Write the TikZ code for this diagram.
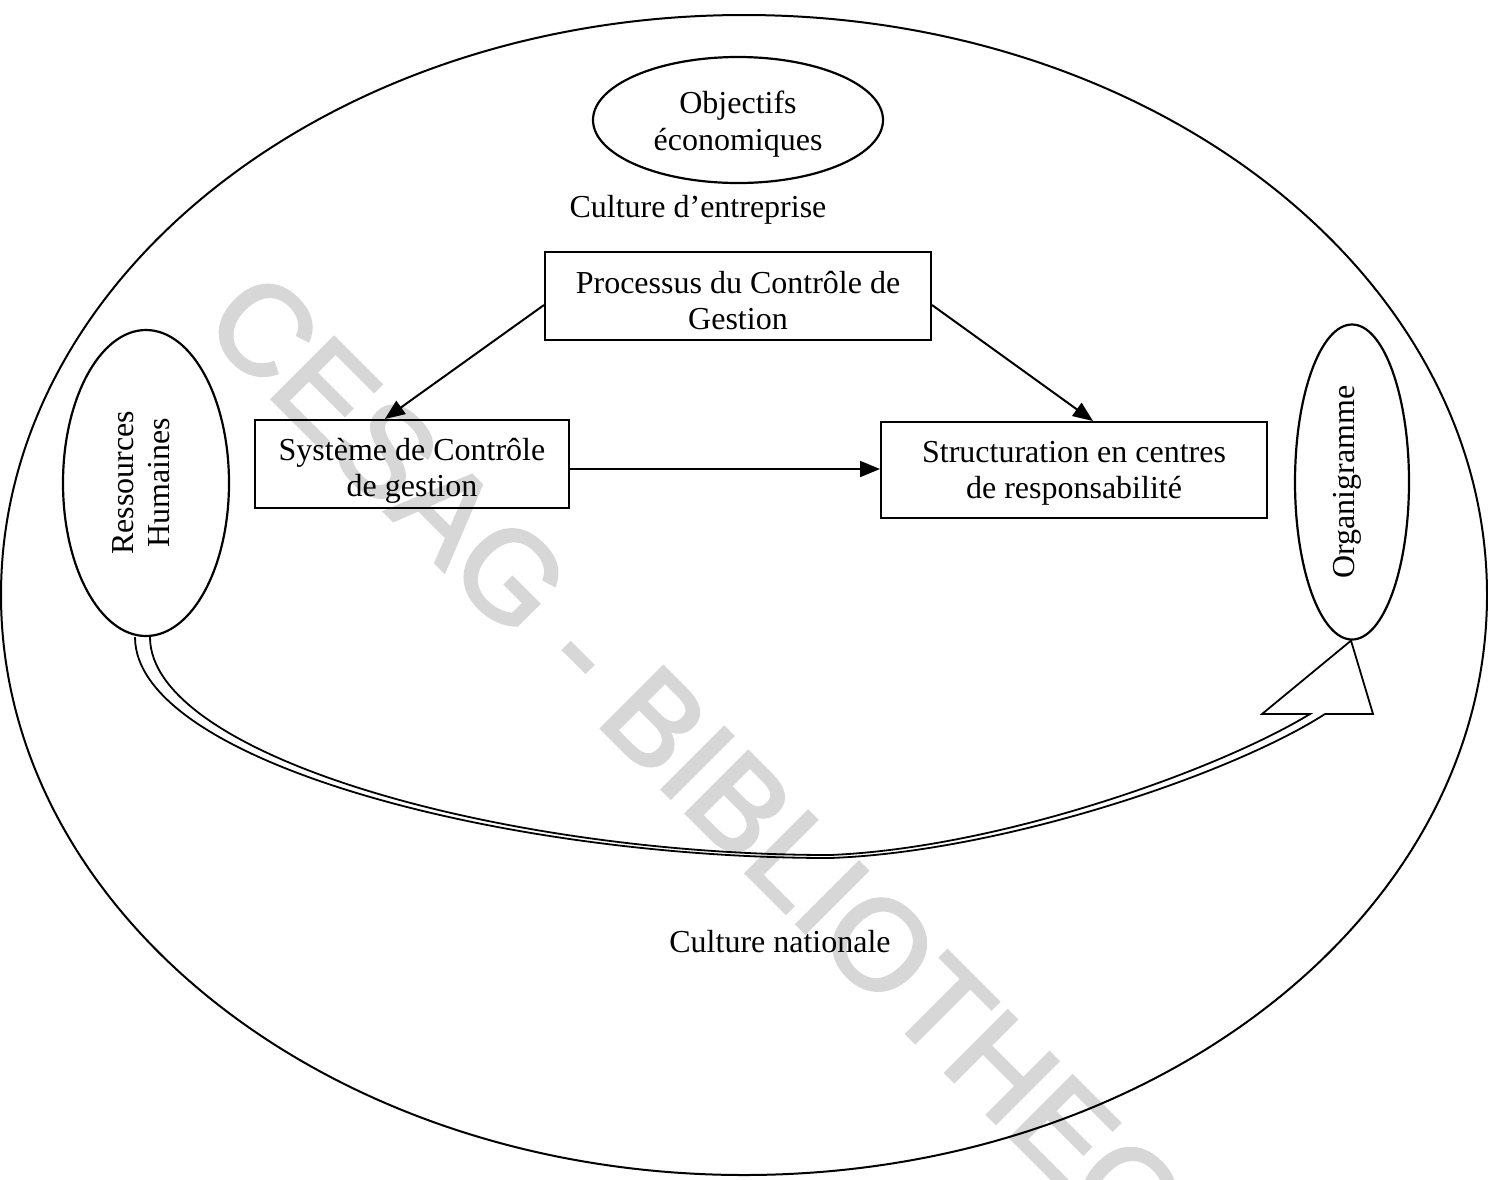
\documentclass[tikz,border=0pt]{standalone}
\usepackage{fontspec}
\setmainfont{Liberation Serif}
\newfontfamily\wmfont[FakeBold=2.5]{Liberation Sans}
\usetikzlibrary{shapes.geometric,arrows.meta,calc}
\definecolor{wmgray}{RGB}{215,215,215}
\begin{document}
\begin{tikzpicture}[x=1pt,y=-1pt,
  every node/.style={font=\fontsize{32}{36}\selectfont},
  box/.style={draw,line width=2pt,inner sep=0pt,align=center},
  oval/.style={draw,ellipse,line width=2.2pt,inner sep=0pt,align=center},
  arr/.style={line width=2pt,-{Triangle[length=20pt,width=16pt]}},
  plain/.style={inner sep=0pt,align=center}]
\useasboundingbox (0,0) rectangle (1488,1179);

% watermark
\node[font=\wmfont\fontsize{127}{127}\selectfont, text=wmgray, rotate=-45,
      anchor=base, inner sep=0pt] (wm) at (729,856) {CESAG - BIBLIOTHEQUE};

% outer ellipse
\node[draw,ellipse,line width=2pt,minimum width=1486pt,minimum height=1160pt,inner sep=0pt] (outer) at (744,595) {};

% objectives
\node[oval,minimum width=290pt,minimum height=126pt,
      label={[plain,yshift=-4pt]center:Objectifs\\[1pt]économiques}] (obj) at (738,120) {};
\node[plain] (ce) at (698,210) {Culture d’entreprise};
\node[plain] (cn) at (780,942) {Culture nationale};

% boxes
\node[box,minimum width=386pt,minimum height=88pt,
      label={[plain,yshift=-5pt]center:Processus du Contrôle de\\Gestion}] (proc) at (738,296) {};
\node[box,minimum width=314pt,minimum height=88pt,
      label={[plain,yshift=-7pt]center:Système de Contrôle\\de gestion}] (sys) at (412,464) {};
\node[box,minimum width=386pt,minimum height=96pt,
      label={[plain,yshift=-3pt]center:Structuration en centres\\de responsabilité}] (struct) at (1074,470) {};

% side ellipses
\node[oval,rotate=90,minimum width=306pt,minimum height=166pt,
      label={[plain,rotate=90,yshift=5pt]center:Ressources\\Humaines}] (rh) at (146,483) {};
\node[oval,rotate=90,minimum width=315pt,minimum height=114pt,
      label={[plain,rotate=90,yshift=5pt]center:Organigramme}] (org) at (1352,482) {};

% arrows
\draw[arr] ([yshift=-9pt]proc.west) -- ($(sys.north west)!0.414!(sys.north east)$);
\draw[arr] ([yshift=-9pt]proc.east) -- ($(struct.north west)!0.549!(struct.north east)$);
\coordinate (s1) at ([yshift=-5pt]sys.east);
\draw[arr] (s1) -- (s1 -| struct.west);

% hollow curved arrow from Ressources Humaines to Organigramme
\coordinate (hA) at ($(rh.west)+(-11,0)$);
\coordinate (hB) at ($(rh.west)+(4,0)$);
\coordinate (tip) at ($(org.west)+(-1,0)$);
\draw[line width=1.8pt,line join=miter]
  (hA) .. controls (135,760) and (500,858) .. (830,858)
       .. controls (1000,852) and (1230,775) .. (1325,714)
       -- (1373,714) -- (tip) -- (1262,714) -- (1310,714)
       .. controls (1218,770) and (1000,848) .. (830,855)
       .. controls (500,855) and (150,755) .. (hB);
\end{tikzpicture}
\end{document}
